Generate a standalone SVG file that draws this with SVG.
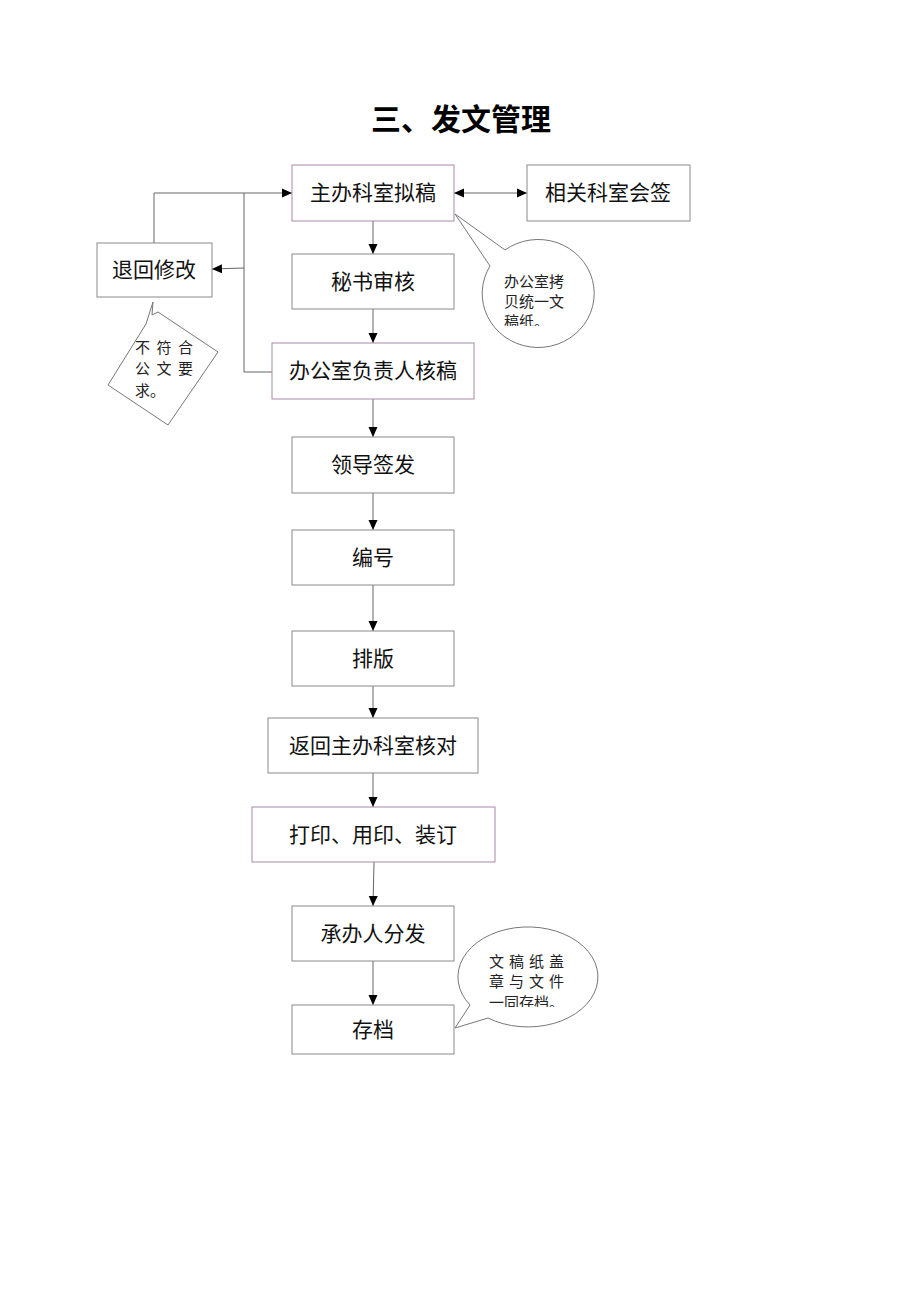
<svg xmlns="http://www.w3.org/2000/svg" width="920" height="1302" viewBox="0 0 920 1302">
<style>
.box{fill:#fff;stroke:#8a8a8a;stroke-width:1}
.pbox{fill:#fff;stroke:#a888a8;stroke-width:1}
.t{font-family:"Liberation Serif","Noto Sans CJK SC",serif;font-size:21px;fill:#111;text-anchor:middle}
.c{font-family:"Liberation Serif","Noto Sans CJK SC",serif;font-size:15px;fill:#222}
.ln{fill:none;stroke:#666;stroke-width:1}
.co{fill:#fff;stroke:#777;stroke-width:1}
.title{font-family:"Noto Sans CJK SC",sans-serif;font-size:30px;font-weight:bold;fill:#000;text-anchor:middle}
</style>
<defs>
<marker id="ar" markerWidth="10" markerHeight="10" refX="10" refY="5" orient="auto-start-reverse" markerUnits="userSpaceOnUse">
<path d="M0,0.5 L10,5 L0,9.5 z" fill="#000"/>
</marker>
<clipPath id="cp1"><rect x="495" y="262" width="90" height="64"/></clipPath>
<clipPath id="cp2"><rect x="480" y="945" width="100" height="62"/></clipPath>
</defs>
<rect width="920" height="1302" fill="#fff"/>
<text class="title" x="461" y="130">三、发文管理</text>

<g id="connectors">
<line class="ln" x1="454" y1="193" x2="527" y2="193" marker-start="url(#ar)" marker-end="url(#ar)"/>
<line class="ln" x1="373" y1="221" x2="373" y2="254" marker-end="url(#ar)"/>
<line class="ln" x1="373" y1="309" x2="373" y2="343" marker-end="url(#ar)"/>
<line class="ln" x1="373" y1="399" x2="373" y2="437" marker-end="url(#ar)"/>
<line class="ln" x1="373" y1="493" x2="373" y2="530" marker-end="url(#ar)"/>
<line class="ln" x1="373" y1="585" x2="373" y2="631" marker-end="url(#ar)"/>
<line class="ln" x1="373" y1="686" x2="373" y2="718" marker-end="url(#ar)"/>
<line class="ln" x1="373" y1="773" x2="373" y2="807" marker-end="url(#ar)"/>
<line class="ln" x1="374" y1="862" x2="373" y2="906" marker-end="url(#ar)"/>
<line class="ln" x1="373" y1="961" x2="373" y2="1005" marker-end="url(#ar)"/>
<polyline class="ln" points="154,243 154,193 292,193" marker-end="url(#ar)"/>
<polyline class="ln" points="272,372 244,372 244,193"/>
<line class="ln" x1="244" y1="268" x2="212" y2="269" marker-end="url(#ar)"/>
</g>

<g id="n1"><rect class="pbox" x="292" y="165" width="162" height="56"/><text class="t" x="373" y="200">主办科室拟稿</text></g>
<g id="n2"><rect class="box" x="527" y="165" width="163" height="56"/><text class="t" x="608" y="200">相关科室会签</text></g>
<g id="n3"><rect class="box" x="292" y="254" width="162" height="55"/><text class="t" x="373" y="289">秘书审核</text></g>
<g id="n4"><rect class="pbox" x="272" y="343" width="202" height="56"/><text class="t" x="373" y="378">办公室负责人核稿</text></g>
<g id="n5"><rect class="box" x="292" y="437" width="162" height="56"/><text class="t" x="373" y="472">领导签发</text></g>
<g id="n6"><rect class="box" x="292" y="530" width="162" height="55"/><text class="t" x="373" y="565">编号</text></g>
<g id="n7"><rect class="box" x="292" y="631" width="162" height="55"/><text class="t" x="373" y="666">排版</text></g>
<g id="n8"><rect class="box" x="268" y="718" width="210" height="55"/><text class="t" x="373" y="753">返回主办科室核对</text></g>
<g id="n9"><rect class="pbox" x="252" y="807" width="243" height="55"/><text class="t" x="373" y="842">打印、用印、装订</text></g>
<g id="n10"><rect class="box" x="292" y="906" width="162" height="55"/><text class="t" x="373" y="941">承办人分发</text></g>
<g id="n11"><rect class="box" x="292" y="1005" width="162" height="49"/><text class="t" x="373" y="1037">存档</text></g>
<g id="n12"><rect class="box" x="97" y="243" width="115" height="54"/><text class="t" x="154" y="277">退回修改</text></g>

<g id="callout1">
<path class="co" d="M455,214 L505,250 A56,54 0 1 1 490,266 Z"/>
<g clip-path="url(#cp1)">
<text class="c" x="504" y="287">办公室拷</text>
<text class="c" x="504" y="307">贝统一文</text>
<text class="c" x="504" y="327">稿纸。</text>
</g>
</g>

<g id="callout2">
<path class="co" d="M158,312 L218,352 L168,425 L108,385 L146,324 L153,302 L152,315 Z"/>
<text class="c" x="135" y="353" letter-spacing="6.5">不符合</text>
<text class="c" x="135" y="374" letter-spacing="6.5">公文要</text>
<text class="c" x="135" y="396">求。</text>
</g>

<g id="callout3">
<path class="co" d="M455,1028 L470,1005 A70,50 0 1 1 488,1018 Z"/>
<g clip-path="url(#cp2)">
<text class="c" x="489" y="967" letter-spacing="5">文稿纸盖</text>
<text class="c" x="489" y="987" letter-spacing="5">章与文件</text>
<text class="c" x="489" y="1008" letter-spacing="0">一同存档。</text>
</g>
</g>
</svg>
